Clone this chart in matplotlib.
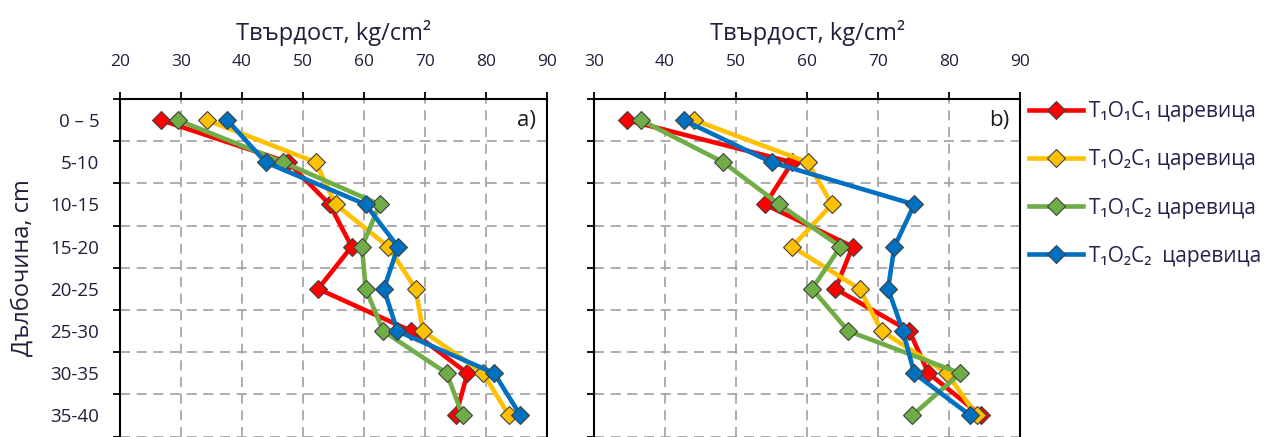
import numpy as np
import matplotlib
matplotlib.use('Agg')
import matplotlib.pyplot as plt

plt.rcParams['font.family'] = ['Open Sans', 'DejaVu Sans']

depths = ['0 – 5', '5-10', '10-15', '15-20', '20-25', '25-30', '30-35', '35-40']
labels = ['T₁O₁C₁ царевица', 'T₁O₂C₁ царевица', 'T₁O₁C₂ царевица', 'T₁O₂C₂  царевица']
colors = ['#ff0000', '#ffc000', '#70ad47', '#0070c0']

# panel a)
a_t1o1c1 = [26.7, 47.6, 54.4, 58.0, 52.5, 67.8, 77.0, 75.1]
a_t1o2c1 = [34.3, 52.1, 55.4, 64.0, 68.5, 69.7, 79.6, 83.8]
a_t1o1c2 = [29.5, 46.8, 62.6, 59.7, 60.3, 63.2, 73.6, 76.2]
a_t1o2c2 = [37.6, 43.9, 60.3, 65.6, 63.3, 65.5, 81.4, 85.7]

# panel b)
b_t1o1c1 = [34.6, 57.9, 54.1, 66.4, 64.0, 74.4, 77.1, 84.5]
b_t1o2c1 = [44.1, 60.1, 63.5, 57.9, 67.4, 70.5, 79.7, 83.9]
b_t1o1c2 = [36.6, 48.2, 56.1, 64.7, 60.7, 65.8, 81.6, 74.8]
b_t1o2c2 = [42.6, 55.0, 75.1, 72.3, 71.4, 73.5, 75.1, 83.0]

panels = [
    ('a)', [a_t1o1c1, a_t1o2c1, a_t1o1c2, a_t1o2c2], (20, 90), [0.0942, 0.001, 0.3349, 0.7725]),
    ('b)', [b_t1o1c1, b_t1o2c1, b_t1o1c2, b_t1o2c2], (30, 90), [0.4663, 0.001, 0.3344, 0.7725]),
]

fig = plt.figure(figsize=(12.74, 4.37), dpi=100)
y = np.arange(len(depths))
handles = []
for i, (tag, series, xlim, rect) in enumerate(panels):
    ax = fig.add_axes(rect)
    for vals, col, lab in zip(series, colors, labels):
        h, = ax.plot(vals, y, color=col, lw=3.3, marker='D', ms=9.5,
                     mfc=col, mec='#404040', mew=0.8, label=lab, zorder=3)
        if i == 0:
            handles.append(h)
    ax.set_xlim(*xlim)
    ax.set_xticks(np.arange(xlim[0], xlim[1] + 1, 10))
    ax.set_ylim(len(depths) - 0.5, -0.5)
    ax.set_yticks(np.arange(-0.5, len(depths), 1))
    ax.set_yticklabels([])
    ax.set_yticks(y, minor=True)
    if i == 0:
        ax.set_yticklabels(depths, minor=True, fontsize=13.5, color='#1f1f3a')
        ax.set_ylabel('Дълбочина, cm', fontsize=17, color='#1f1f3a', labelpad=11)
    else:
        ax.set_yticklabels([], minor=True)
    ax.tick_params(axis='y', which='minor', length=0, pad=15)
    ax.tick_params(axis='y', which='major', length=5, width=1.3, direction='out')
    ax.xaxis.tick_top()
    ax.xaxis.set_label_position('top')
    ax.tick_params(axis='x', length=5, width=1.3, labelsize=12.5, pad=16,
                   labelcolor='#1f1f3a')
    ax.set_xlabel('Твърдост, kg/cm²', fontsize=17, color='#1f1f3a', labelpad=10)
    ax.grid(True, which='major', color='#a0a0a0', ls=(0, (6, 4)), lw=1.2)
    for s in ['top', 'left', 'right']:
        ax.spines[s].set_linewidth(1.5)
    ax.spines['bottom'].set_visible(False)
    ax.text(0.975, 0.935, tag, transform=ax.transAxes, ha='right', va='center',
            fontsize=16, color='#1a1a1a')

fig.legend(handles=handles, loc='upper left', bbox_to_anchor=(0.801, 0.787),
           frameon=False, fontsize=15, handlelength=2.6, handletextpad=0.3,
           labelspacing=1.3, borderaxespad=0, labelcolor='#2a1f4a')

fig.savefig('out.png', dpi=100)
